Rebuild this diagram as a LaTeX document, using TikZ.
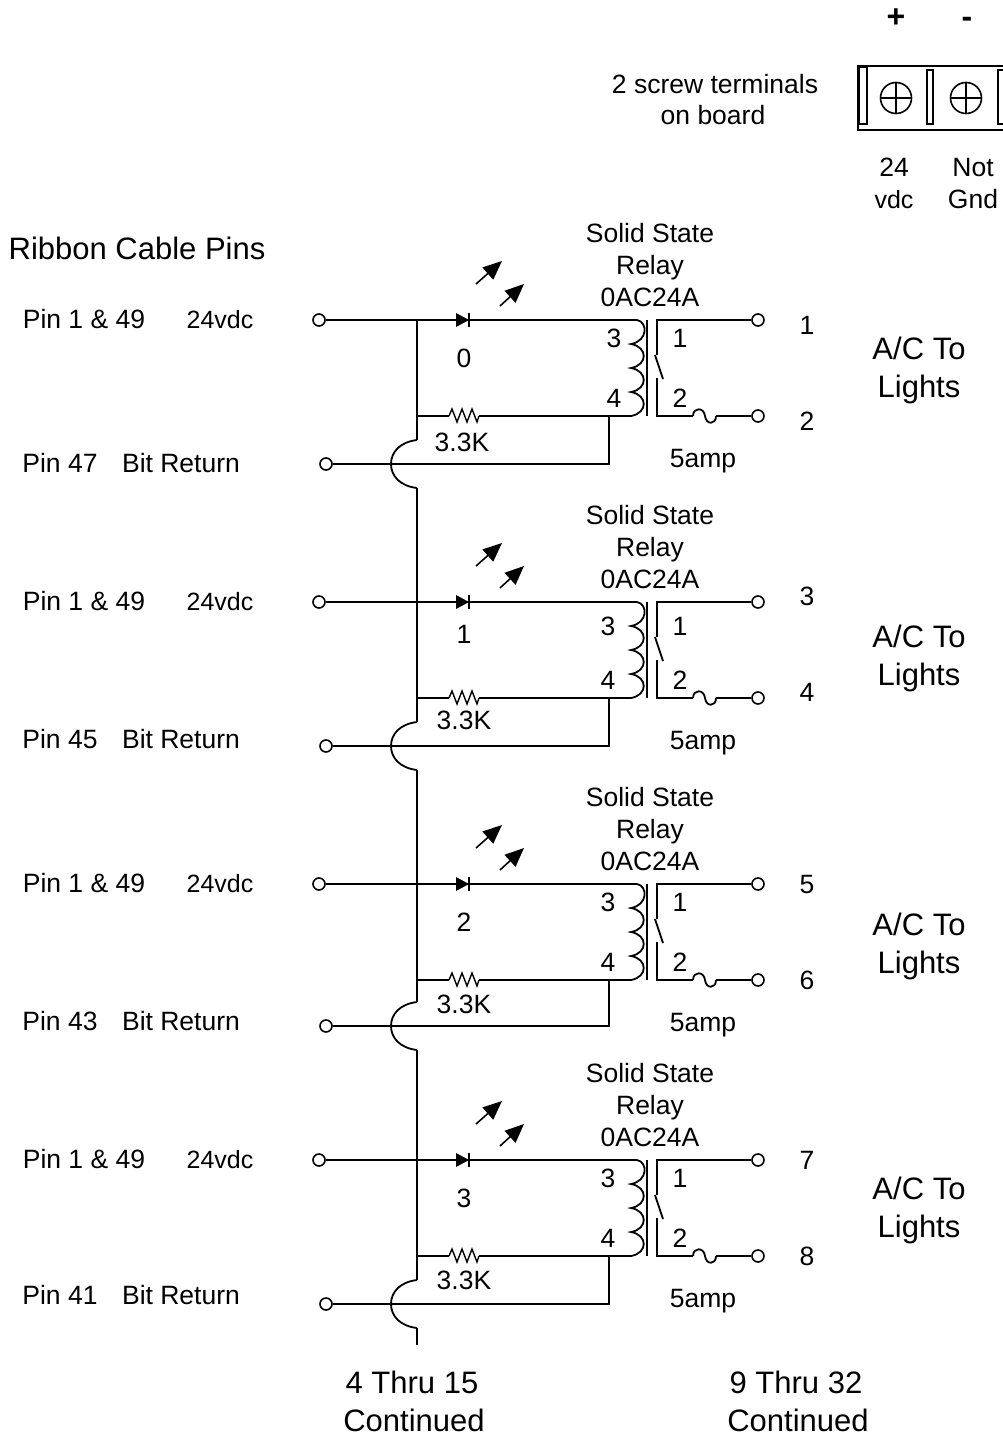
\documentclass[tikz,border=0pt]{standalone}
\usepackage{fontspec}
\setmainfont{Liberation Sans}
\usetikzlibrary{arrows.meta}
\tikzset{
  wire/.style={line width=1.8pt},
  thin wire/.style={line width=1.4pt},
  lbl/.style={inner sep=0pt,text height=19pt,text depth=0pt,font=\fontsize{26.5}{30}\selectfont},
  vlbl/.style={lbl,font=\fontsize{25}{30}\selectfont},
  signlbl/.style={lbl,font=\bfseries\fontsize{32}{34}\selectfont},
  biglbl/.style={inner sep=0pt,text height=22.5pt,text depth=0pt,font=\fontsize{31}{36}\selectfont},
  term/.style={circle,draw,line width=1.6pt,fill=white,inner sep=0pt,minimum size=12pt},
  screw/.style={circle,draw,line width=1.6pt,minimum size=31pt,inner sep=0pt},
  light/.style={line width=1.6pt,-{Triangle[length=19pt,width=16pt]}}
}

\begin{document}
\begin{tikzpicture}[x=1pt,y=-1pt]
  \useasboundingbox (0,0) rectangle (1003,1435);
  % screw terminals
  \begin{scope}
    \clip (0,0) rectangle (1003,1435);
    \draw [wire](858,66) rectangle (1010,130);
    \draw [wire](859,67) rectangle (867,124);
    \draw [wire](927,70) rectangle (933,124);
    \draw [wire](998,70) rectangle (1010,124);
  \end{scope}
  \node[screw] at(896,98)(screwA){};
  \node[screw] at(966,98)(screwB){};
  \draw [thin wire](screwA.north) -- (screwA.south);
  \draw [thin wire](screwA.west) -- (screwA.east);
  \draw [thin wire](screwB.north) -- (screwB.south);
  \draw [thin wire](screwB.west) -- (screwB.east);
  \node[signlbl] at(896,18)(plus){+};
  \node[signlbl] at(967,18)(minus){-};
  \node[lbl] at(715,84)(screwa){2 screw terminals};
  \node[lbl] at(713,115)(screwb){on board};
  \node[lbl] at(894,167)(vdca){24};
  \node[vlbl] at(894,199)(vdcb){vdc};
  \node[lbl] at(973,167)(gnda){Not};
  \node[lbl] at(973,199)(gndb){Gnd};
  \node[biglbl] at(137,248)(ribbon){Ribbon Cable Pins};
  % wiring of the four relays
  \foreach \n/\y/\r in {1/320/464,2/602/746,3/884/1026,4/1160/1304}{
    \coordinate (jct\n) at(417,\y);
    \coordinate (res\n) at(417,\y+96);
    \coordinate (hopa\n) at(417,\r-24);
    \coordinate (hopb\n) at(417,\r+24);
    \coordinate (drop\n) at(609,\y+96);
    \coordinate (drope\n) at(609,\r);
    \coordinate (coila\n) at(637,\y);
    \coordinate (coilb\n) at(631,\y+96);
    \coordinate (cona\n) at(657,\y);
    \coordinate (conb\n) at(657,\y+96);
    \node[term] at(319,\y)(in\n){};
    \node[term] at(326,\r)(ret\n){};
    \node[term] at(758,\y)(outa\n){};
    \node[term] at(758,\y+96)(outb\n){};
    \draw [wire](in\n) -- (jct\n) -- (coila\n);
    \draw [wire](jct\n) -- (hopa\n);
    \draw [wire](ret\n) -- (drope\n) -- (drop\n);
    \draw [wire](hopa\n) .. controls (400,\r-22) and (391,\r-12) .. (391,\r)
      .. controls (391,\r+12) and (400,\r+22) .. (hopb\n);
    % led and its two arrows
    \fill (456,\y-7) -- (469,\y) -- (456,\y+7) -- cycle;
    \draw [wire](469,\y-7) -- (469,\y+7);
    \draw [light](476,\y-36) -- (502,\y-59);
    \draw [light](500,\y-14) -- (524,\y-36);
    % resistor
    \draw [wire](res\n) -- (449,\y+96);
    \draw [thin wire](449,\y+96) -- (452,\y+89) -- (457,\y+102) -- (462,\y+89)
      -- (467,\y+102) -- (472,\y+89) -- (477,\y+102) -- (479,\y+96);
    \draw [wire](479,\y+96) -- (coilb\n);
    % coil, core, contact
    \draw [wire](coila\n) .. controls (648,\y+2) and (648,\y+21) .. (631,\y+24)
      .. controls (648,\y+27) and (648,\y+45) .. (631,\y+48)
      .. controls (648,\y+51) and (648,\y+69) .. (631,\y+72)
      .. controls (648,\y+75) and (648,\y+93) .. (coilb\n);
    \draw [wire](647,\y) -- (647,\y+96);
    \draw [wire](outa\n) -- (cona\n) -- (657,\y+35);
    \draw [wire](655,\y+35) -- (663,\y+59);
    \draw [wire](657,\y+58) -- (conb\n) -- (693,\y+96);
    \draw [wire](693,\y+96) .. controls (693,\y+87) and (704,\y+87) .. (705,\y+96)
      .. controls (706,\y+105) and (716,\y+105) .. (716,\y+96);
    \draw [wire](716,\y+96) -- (outb\n);
  }
  \coordinate (endwire) at(417,1345);
  \draw [wire](hopb1) -- (jct2);
  \draw [wire](hopb2) -- (jct3);
  \draw [wire](hopb3) -- (jct4);
  \draw [wire](hopb4) -- (endwire);
  % first relay
  \node[lbl] at(650,233)(ssa1){Solid State};
  \node[lbl] at(650,265)(ssb1){Relay};
  \node[lbl] at(650,297)(ssc1){0AC24A};
  \node[lbl] at(84,319)(pina1){Pin 1 \& 49};
  \node[vlbl] at(220,319)(vin1){24vdc};
  \node[lbl] at(60,463)(pinb1){Pin 47};
  \node[lbl] at(181,463)(bit1){Bit Return};
  \node[lbl] at(464,358)(led1){0};
  \node[lbl] at(614,338)(cla1){3};
  \node[lbl] at(680,338)(cra1){1};
  \node[lbl] at(614,398)(clb1){4};
  \node[lbl] at(680,398)(crb1){2};
  \node[lbl] at(462,442)(rv1){3.3K};
  \node[lbl] at(703,458)(amp1){5amp};
  \node[lbl] at(807,325)(nua1){1};
  \node[lbl] at(807,421)(nub1){2};
  \node[biglbl] at(919,348)(aca1){A/C To};
  \node[biglbl] at(919,386)(acb1){Lights};
  % second relay
  \node[lbl] at(650,515)(ssa2){Solid State};
  \node[lbl] at(650,547)(ssb2){Relay};
  \node[lbl] at(650,579)(ssc2){0AC24A};
  \node[lbl] at(84,601)(pina2){Pin 1 \& 49};
  \node[vlbl] at(220,601)(vin2){24vdc};
  \node[lbl] at(60,739)(pinb2){Pin 45};
  \node[lbl] at(181,739)(bit2){Bit Return};
  \node[lbl] at(464,634)(led2){1};
  \node[lbl] at(608,626)(cla2){3};
  \node[lbl] at(680,626)(cra2){1};
  \node[lbl] at(608,680)(clb2){4};
  \node[lbl] at(680,680)(crb2){2};
  \node[lbl] at(464,720)(rv2){3.3K};
  \node[lbl] at(703,740)(amp2){5amp};
  \node[lbl] at(807,596)(nua2){3};
  \node[lbl] at(807,692)(nub2){4};
  \node[biglbl] at(919,636)(aca2){A/C To};
  \node[biglbl] at(919,674)(acb2){Lights};
  % third relay
  \node[lbl] at(650,797)(ssa3){Solid State};
  \node[lbl] at(650,829)(ssb3){Relay};
  \node[lbl] at(650,861)(ssc3){0AC24A};
  \node[lbl] at(84,883)(pina3){Pin 1 \& 49};
  \node[vlbl] at(220,883)(vin3){24vdc};
  \node[lbl] at(60,1021)(pinb3){Pin 43};
  \node[lbl] at(181,1021)(bit3){Bit Return};
  \node[lbl] at(464,922)(led3){2};
  \node[lbl] at(608,902)(cla3){3};
  \node[lbl] at(680,902)(cra3){1};
  \node[lbl] at(608,962)(clb3){4};
  \node[lbl] at(680,962)(crb3){2};
  \node[lbl] at(464,1004)(rv3){3.3K};
  \node[lbl] at(703,1022)(amp3){5amp};
  \node[lbl] at(807,884)(nua3){5};
  \node[lbl] at(807,980)(nub3){6};
  \node[biglbl] at(919,924)(aca3){A/C To};
  \node[biglbl] at(919,962)(acb3){Lights};
  % fourth relay
  \node[lbl] at(650,1073)(ssa4){Solid State};
  \node[lbl] at(650,1105)(ssb4){Relay};
  \node[lbl] at(650,1137)(ssc4){0AC24A};
  \node[lbl] at(84,1159)(pina4){Pin 1 \& 49};
  \node[vlbl] at(220,1159)(vin4){24vdc};
  \node[lbl] at(60,1295)(pinb4){Pin 41};
  \node[lbl] at(181,1295)(bit4){Bit Return};
  \node[lbl] at(464,1198)(led4){3};
  \node[lbl] at(608,1178)(cla4){3};
  \node[lbl] at(680,1178)(cra4){1};
  \node[lbl] at(608,1238)(clb4){4};
  \node[lbl] at(680,1238)(crb4){2};
  \node[lbl] at(464,1280)(rv4){3.3K};
  \node[lbl] at(703,1298)(amp4){5amp};
  \node[lbl] at(807,1160)(nua4){7};
  \node[lbl] at(807,1256)(nub4){8};
  \node[biglbl] at(919,1188)(aca4){A/C To};
  \node[biglbl] at(919,1226)(acb4){Lights};
  % bottom notes
  \node[biglbl] at(412,1382)(conta){4 Thru 15};
  \node[biglbl] at(414,1420)(contb){Continued};
  \node[biglbl] at(796,1382)(contc){9 Thru 32};
  \node[biglbl] at(798,1420)(contd){Continued};
\end{tikzpicture}
\end{document}
